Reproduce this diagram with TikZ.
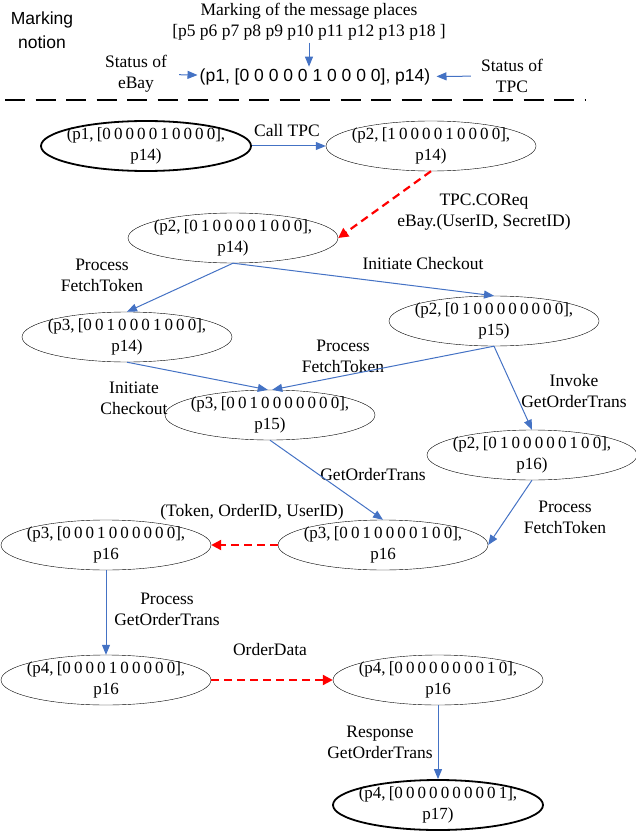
\documentclass[tikz,border=0pt]{standalone}
\usepackage{fontspec}
\setmainfont{Liberation Serif}
\setsansfont{Liberation Sans}
\usetikzlibrary{shapes.geometric,arrows.meta}
\definecolor{flowblue}{RGB}{68,114,196}
\newcommand{\markfont}{\fontsize{17}{21}\selectfont\spaceskip 3.1pt\relax}

\begin{document}
\begin{tikzpicture}[
  x=1pt, y=-1pt,
  every node/.style={font=\fontsize{17.5}{21}\selectfont, align=center, inner sep=2pt},
  state/.style={ellipse, draw, minimum width=210pt, minimum height=50pt, inner sep=0pt,
    label={[font=\markfont]center:{#1}}},
  final/.style={state={#1}, line width=1.8pt},
  flow/.style={draw=flowblue, line width=1pt, -{Triangle[length=10pt,width=8pt]}},
  msg/.style={draw=red, line width=2.2pt, dash pattern=on 8pt off 5pt,
    -{Triangle[length=10pt,width=10pt]}}
]
\useasboundingbox (0,0) rectangle (635,834);

% marking notion
\node[font=\sffamily\fontsize{17.5}{24}\selectfont] (notion) at (42,30) {Marking\\ notion};
\node (places) at (309,22) {Marking of the message places\\ {[p5 p6 p7 p8 p9 p10 p11 p12 p13 p18 ]}};
\node[font=\sffamily\fontsize{17.5}{21}\selectfont] (tuple) at (315,77) {(p1, [0 0 0 0 0 1 0 0 0 0], p14)};
\node (ebay) at (136,74) {Status of\\ eBay};
\node (tpc) at (512,76) {Status of\\ TPC};
\draw[flow] (places.south) -- (places.south |- tuple.north);
\draw[flow, shorten <=10pt] (ebay) -- (tuple);
\draw[flow, shorten <=8pt, shorten >=4pt] (tpc) -- (tuple);

\coordinate (sepL) at (5,100);
\coordinate (sepR) at (585,100);
\draw[line width=2.2pt, dash pattern=on 20pt off 10.5pt] (sepL) -- (sepR);

% reachability graph
\node[final={(p1, [0 0 0 0 0 1 0 0 0 0],\\ p14)}] (s1) at (146,146) {};
\node[state={(p2, [1 0 0 0 0 1 0 0 0 0],\\ p14)}] (s2) at (431,146) {};
\node[state={(p2, [0 1 0 0 0 0 1 0 0 0],\\ p14)}] (s3) at (233,238) {};
\node[state={(p3, [0 0 1 0 0 0 1 0 0 0],\\ p14)}] (s4) at (127,337) {};
\node[state={(p2, [0 1 0 0 0 0 0 0 0 0],\\ p15)}] (s5) at (494,321) {};
\node[state={(p3, [0 0 1 0 0 0 0 0 0 0],\\ p15)}] (s6) at (270,415) {};
\node[state={(p2, [0 1 0 0 0 0 0 1 0 0],\\ p16)}] (s7) at (532,455) {};
\node[state={(p3, [0 0 1 0 0 0 0 1 0 0],\\ p16}] (s8) at (383,545) {};
\node[state={(p3, [0 0 0 1 0 0 0 0 0 0],\\ p16}] (s9) at (106,545) {};
\node[state={(p4, [0 0 0 0 1 0 0 0 0 0],\\ p16}] (s10) at (106,680) {};
\node[state={(p4, [0 0 0 0 0 0 0 0 1 0],\\ p16}] (s11) at (438,680) {};
\node[final={(p4, [0 0 0 0 0 0 0 0 0 1],\\ p17)}] (s12) at (438,805) {};

\node (l1) at (287,131) {Call TPC};
\node (l2) at (484,212) {TPC.COReq\\ eBay.(UserID, SecretID)};
\node (l3) at (102,275) {Process\\ FetchToken};
\node (l4) at (423,264) {Initiate Checkout};
\node (l5) at (343,356) {Process\\ FetchToken};
\node (l6) at (134,398) {Initiate\\ Checkout};
\node (l7) at (574,391) {Invoke\\ GetOrderTrans};
\node (l8) at (373,475) {GetOrderTrans};
\node (l9) at (565,517) {Process\\ FetchToken};
\node (l10) at (252,512) {(Token, OrderID, UserID)};
\node (l11) at (167,609) {Process\\ GetOrderTrans};
\node (l12) at (270,650) {OrderData};
\node (l13) at (380,742) {Response\\ GetOrderTrans};

\draw[flow] (s1) -- (s2);
\draw[msg] (s2.south) -- (s3.east);
\draw[flow] (s3.south) -- (s4.north);
\draw[flow] (s3.south) -- (s5.north);
\draw[flow] (s4.south) -- (s6.95);
\draw[flow] (s5.south) -- (s6.85);
\draw[flow] (s5.south) -- (s7.north);
\draw[flow] (s6.south) -- (s8.north);
\draw[flow] (s7.south) -- (s8.east);
\draw[msg] (s8.west) -- (s9.east);
\draw[flow] (s9.south) -- (s10.north);
\draw[msg] (s10.east) -- (s11.west);
\draw[flow] (s11.south) -- (s12.north);
\end{tikzpicture}
\end{document}
